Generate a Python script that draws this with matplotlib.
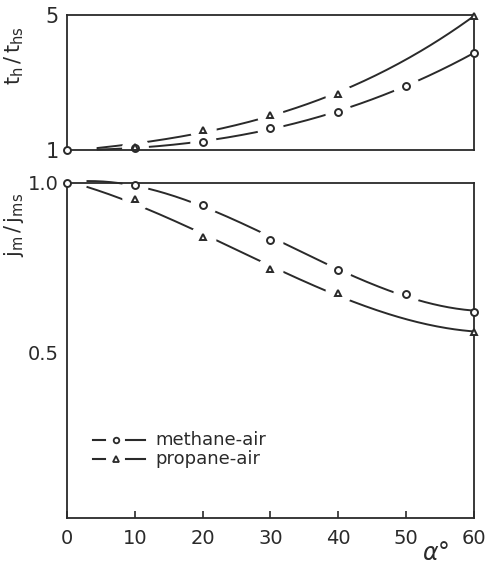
import numpy as np
import matplotlib
matplotlib.use("Agg")
import matplotlib.pyplot as plt

# ---- data ----
alpha_m = [0, 10, 20, 30, 40, 50, 60]
th_methane = [1.0, 1.06, 1.24, 1.65, 2.13, 2.90, 3.87]
alpha_p = [0, 10, 20, 30, 40, 60]
th_propane = [1.0, 1.09, 1.59, 2.04, 2.66, 4.97]

jm_methane = [1.0, 0.995, 0.935, 0.832, 0.744, 0.672, 0.62]
jm_propane = [1.0, 0.953, 0.84, 0.747, 0.676, 0.56]

xticks = [0, 10, 20, 30, 40, 50, 60]
series_names = ['methane-air', 'propane-air']

plt.rcParams['font.family'] = ['DejaVu Sans']
col = '#2a2a2a'

fig = plt.figure(figsize=(4.9, 5.7), dpi=100)
ax1 = fig.add_axes([0.137, 0.737, 0.830, 0.237])
ax2 = fig.add_axes([0.137, 0.091, 0.830, 0.588])


def curve(ax, x, y, start, deg=3):
    c = np.polyfit(x, y, deg)
    xs = np.linspace(start, 60, 200)
    ax.plot(xs, np.polyval(c, xs), color=col, lw=1.4, zorder=2, clip_on=False)


def markers(ax, x, y, m, ms):
    # white halo to break the line around each marker
    ax.plot(x, y, linestyle='none', marker='o', ms=ms + 13, mfc='white',
            mec='white', zorder=2.2, clip_on=False)
    ax.plot(x, y, linestyle='none', marker=m, ms=ms, mfc='white',
            mec=col, mew=1.4, zorder=3, clip_on=False)


def edge_marker(ax, x, y, m):
    ax.plot(x, y, linestyle='none', marker=m, ms=5, mfc='white',
            mec=col, mew=1.4, zorder=3, clip_on=False)


# top panel
curve(ax1, alpha_m, th_methane, 4.5)
curve(ax1, alpha_p, th_propane, 4.5)
markers(ax1, alpha_m[1:6], th_methane[1:6], 'o', 5)
markers(ax1, alpha_p[1:5], th_propane[1:5], '^', 5)
edge_marker(ax1, [alpha_m[0], alpha_m[-1]], [th_methane[0], th_methane[-1]], 'o')
edge_marker(ax1, [alpha_p[-1]], [th_propane[-1]], '^')
ax1.set_xlim(0, 60)
ax1.set_ylim(1, 5)
ax1.set_xticks([])
ax1.set_yticks([1, 5])
ax1.set_yticklabels(['1', '5'], fontsize=15, color=col)
ax1.tick_params(axis='y', length=0, pad=6)
ax1.set_ylabel(r'$\mathsf{t_h\,/\,t_{hs}}$', fontsize=15, color=col)
ax1.yaxis.set_label_coords(-0.1, 0.70)

# bottom panel
curve(ax2, alpha_m, jm_methane, 3.0)
curve(ax2, alpha_p, jm_propane, 3.0)
markers(ax2, alpha_m[1:6], jm_methane[1:6], 'o', 5)
markers(ax2, alpha_p[1:5], jm_propane[1:5], '^', 5)
edge_marker(ax2, [alpha_m[0], alpha_m[-1]], [jm_methane[0], jm_methane[-1]], 'o')
edge_marker(ax2, [alpha_p[-1]], [jm_propane[-1]], '^')
ax2.set_xlim(0, 60)
ax2.set_ylim(0.01, 1.0)
ax2.set_xticks(xticks)
ax2.set_xticklabels([str(t) for t in xticks], fontsize=14, color=col)
ax2.tick_params(axis='x', direction='in', length=5, width=1.2, pad=8, colors=col)
ax2.set_yticks([0.5, 1.0])
ax2.set_yticklabels(['0.5', '1.0'], fontsize=14, color=col)
ax2.tick_params(axis='y', length=0, pad=6)
ax2.set_ylabel(r'$\mathsf{j_m\,/\,j_{ms}}$', fontsize=15, color=col)
ax2.yaxis.set_label_coords(-0.1, 0.875)
ax2.text(0.905, -0.105, r'$\alpha$°', transform=ax2.transAxes, fontsize=17,
         color=col, ha='center', va='center')

# hand-drawn style legend: "—o— methane-air", "—△— propane-air"
T = ax2.transAxes
for i, (name, m) in enumerate(zip(series_names, ['o', '^'])):
    yy = 0.232 - i * 0.057
    ax2.plot([0.064, 0.094], [yy, yy], color=col, lw=1.5, transform=T)
    ax2.plot([0.145, 0.191], [yy, yy], color=col, lw=1.5, transform=T)
    ax2.plot([0.120], [yy], marker=m, ms=4, mfc='white', mec=col, mew=1.3,
             transform=T, linestyle='none')
    ax2.text(0.218, yy, name, transform=T, fontsize=13, color=col,
             ha='left', va='center')

for ax in (ax1, ax2):
    for s in ax.spines.values():
        s.set_color(col)
        s.set_linewidth(1.3)

fig.savefig('out.png', dpi=100)
